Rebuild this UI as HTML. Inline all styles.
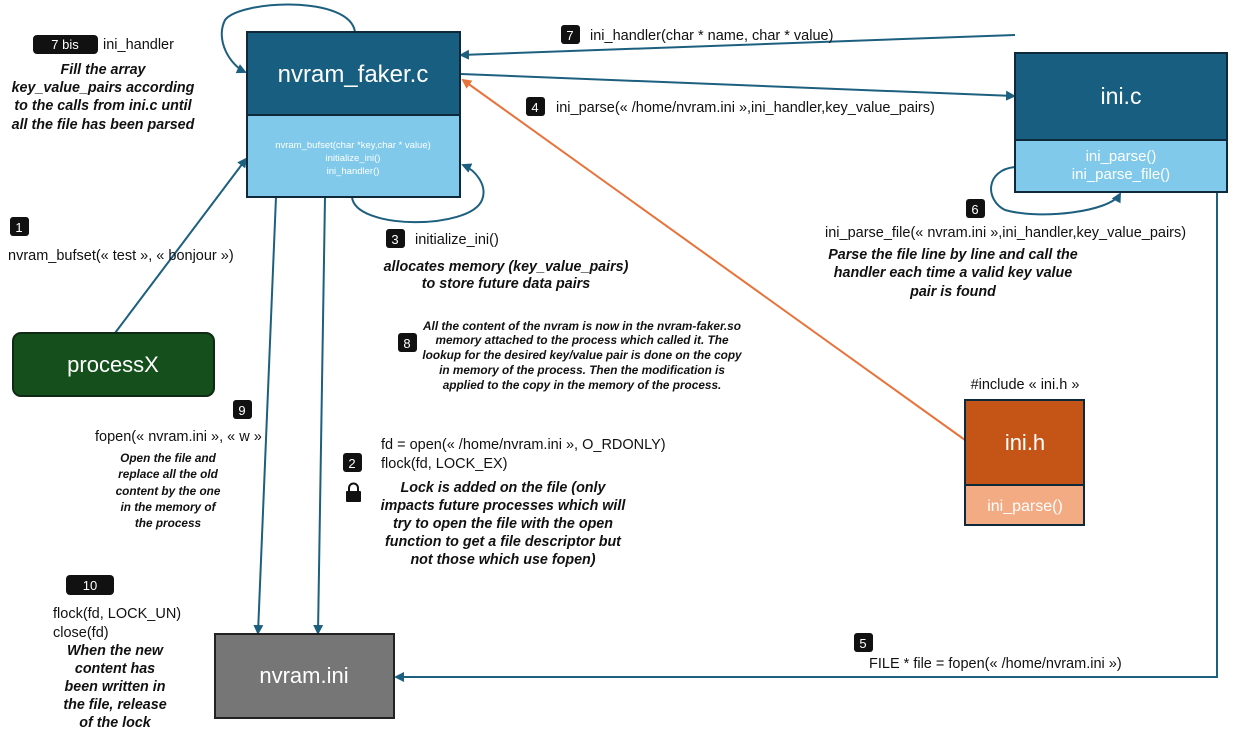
<!DOCTYPE html>
<html><head><meta charset="utf-8"><style>
body{margin:0;background:#fff;}
svg{display:block;font-family:"Liberation Sans",sans-serif;}
.t{font-size:14.5px;fill:#111}
.b{font-size:14.3px;font-weight:bold;font-style:italic;fill:#111}
.s{font-size:11.8px;font-weight:bold;font-style:italic;fill:#111}
.n{font-size:13px;fill:#fff}
</style></head><body>
<svg width="1240" height="738" viewBox="0 0 1240 738" xmlns="http://www.w3.org/2000/svg">
<defs>
<marker id="a" markerWidth="10" markerHeight="10" refX="8" refY="5" orient="auto" markerUnits="userSpaceOnUse"><path d="M0,0 L10,5 L0,10 z" fill="#1d5f7f"/></marker>
<marker id="o" markerWidth="10" markerHeight="10" refX="8" refY="5" orient="auto" markerUnits="userSpaceOnUse"><path d="M0,0 L10,5 L0,10 z" fill="#e8733a"/></marker>
</defs>
<g fill="none" stroke="#1d5f7f" stroke-width="2">
<path d="M355,32 C350,-5 240,0 225,20 C215,40 230,65 245,72" marker-end="url(#a)"/>
<path d="M115,333 L246,159" marker-end="url(#a)"/>
<path d="M352,197 C355,230 470,230 482,200 C488,185 475,170 463,165" marker-end="url(#a)"/>
<path d="M1015,35 L461,55" marker-end="url(#a)"/>
<path d="M461,74 L1014,96" marker-end="url(#a)"/>
<path d="M1015,167 C985,170 985,200 1005,210 C1040,220 1110,212 1120,194" marker-end="url(#a)"/>
<path d="M1217,192 L1217,677 L396,677" marker-end="url(#a)"/>
<path d="M276,197 L258,633" marker-end="url(#a)"/>
<path d="M325,197 L318,633" marker-end="url(#a)"/>
</g>
<path d="M965,440 L463,80" stroke="#e8733a" stroke-width="2" fill="none" marker-end="url(#o)"/>

<rect x="247" y="32" width="213" height="83" fill="#175e80" stroke="#0e2a3a" stroke-width="2"/>
<rect x="247" y="115" width="213" height="82" fill="#80c9ea" stroke="#0e2a3a" stroke-width="2"/>
<text x="353" y="82" text-anchor="middle" font-size="24" fill="#fff">nvram_faker.c</text>
<text x="353" y="148" text-anchor="middle" font-size="9.5" fill="#fff">nvram_bufset(char *key,char * value)</text>
<text x="353" y="161" text-anchor="middle" font-size="9.5" fill="#fff">initialize_ini()</text>
<text x="353" y="174" text-anchor="middle" font-size="9.5" fill="#fff">ini_handler()</text>

<rect x="1015" y="53" width="212" height="87" fill="#175e80" stroke="#0e2a3a" stroke-width="2"/>
<rect x="1015" y="140" width="212" height="52" fill="#80c9ea" stroke="#0e2a3a" stroke-width="2"/>
<text x="1121" y="104" text-anchor="middle" font-size="23" fill="#fff">ini.c</text>
<text x="1121" y="161" text-anchor="middle" font-size="15" fill="#fff">ini_parse()</text>
<text x="1121" y="179" text-anchor="middle" font-size="15" fill="#fff">ini_parse_file()</text>

<rect x="965" y="400" width="119" height="85" fill="#c55417" stroke="#0e2a3a" stroke-width="2"/>
<rect x="965" y="485" width="119" height="40" fill="#f2ab83" stroke="#0e2a3a" stroke-width="2"/>
<text x="1025" y="450" text-anchor="middle" font-size="22" fill="#fff">ini.h</text>
<text x="1025" y="511" text-anchor="middle" font-size="16" fill="#fff">ini_parse()</text>
<text x="1025" y="389" text-anchor="middle" class="t">#include « ini.h »</text>

<rect x="13" y="333" width="201" height="63" rx="8" fill="#144f1c" stroke="#0e2a14" stroke-width="2"/>
<text x="113" y="372" text-anchor="middle" font-size="22" fill="#fff">processX</text>

<rect x="215" y="634" width="179" height="84" fill="#767676" stroke="#222" stroke-width="2"/>
<text x="304" y="683" text-anchor="middle" font-size="22" fill="#fff">nvram.ini</text>

<g fill="#111">
<rect x="33" y="35" width="65" height="19" rx="4"/>
<rect x="10" y="217" width="19" height="19" rx="3"/>
<rect x="561" y="25" width="19" height="19" rx="3"/>
<rect x="526" y="97" width="19" height="19" rx="3"/>
<rect x="386" y="229" width="19" height="19" rx="3"/>
<rect x="966" y="199" width="19" height="19" rx="3"/>
<rect x="398" y="333" width="19" height="19" rx="3"/>
<rect x="233" y="400" width="19" height="19" rx="3"/>
<rect x="343" y="453" width="19" height="19" rx="3"/>
<rect x="854" y="633" width="19" height="19" rx="3"/>
<rect x="66" y="575" width="48" height="20" rx="4"/>
</g>
<g class="n" text-anchor="middle">
<text x="65" y="49" class="n">7 bis</text>
<text x="19" y="232" class="n">1</text>
<text x="570" y="40" class="n">7</text>
<text x="535" y="112" class="n">4</text>
<text x="395" y="244" class="n">3</text>
<text x="975" y="214" class="n">6</text>
<text x="407" y="348" class="n">8</text>
<text x="242" y="415" class="n">9</text>
<text x="352" y="468" class="n">2</text>
<text x="863" y="648" class="n">5</text>
<text x="90" y="590" class="n">10</text>
</g>

<text x="103" y="49" class="t">ini_handler</text>
<g class="b" text-anchor="middle">
<text x="103" y="74">Fill the array</text>
<text x="103" y="92">key_value_pairs according</text>
<text x="103" y="110">to the calls from ini.c until</text>
<text x="103" y="129">all the file has been parsed</text>
</g>
<text x="8" y="260" class="t" font-size="15.5">nvram_bufset(« test »,  « bonjour »)</text>
<text x="590" y="40" class="t">ini_handler(char *  name, char * value)</text>
<text x="556" y="112" class="t">ini_parse(« /home/nvram.ini »,ini_handler,key_value_pairs)</text>
<text x="415" y="244" class="t">initialize_ini()</text>
<g class="b" text-anchor="middle">
<text x="506" y="271">allocates memory (key_value_pairs)</text>
<text x="506" y="288">to store future data pairs</text>
</g>
<text x="825" y="237" class="t">ini_parse_file(« nvram.ini »,ini_handler,key_value_pairs)</text>
<g class="b" text-anchor="middle">
<text x="953" y="259">Parse the file line by line and call the</text>
<text x="953" y="277">handler each time a valid key value</text>
<text x="953" y="296">pair is found</text>
</g>
<g class="s" text-anchor="middle">
<text x="582" y="330">All the content of the nvram is now in the nvram-faker.so</text>
<text x="582" y="344">memory attached to the process which called it. The</text>
<text x="582" y="359">lookup for the desired key/value pair is done on the copy</text>
<text x="582" y="374">in memory of the process. Then the modification is</text>
<text x="582" y="389">applied to the copy in the memory of the process.</text>
</g>
<text x="95" y="441" class="t">fopen(« nvram.ini »,  « w »</text>
<g class="s" text-anchor="middle">
<text x="168" y="462">Open the file and</text>
<text x="168" y="478">replace all the old</text>
<text x="168" y="495">content by the one</text>
<text x="168" y="511">in the memory of</text>
<text x="168" y="527">the process</text>
</g>
<text x="381" y="449" class="t">fd = open(« /home/nvram.ini », O_RDONLY)</text>
<text x="381" y="468" class="t">flock(fd, LOCK_EX)</text>
<g transform="translate(346,484)"><rect x="0" y="7" width="15" height="11" rx="1" fill="#111"/><path d="M3,8 V4 a4.5,4.5 0 0 1 9,0 V8" fill="none" stroke="#111" stroke-width="2"/></g>
<g class="b" text-anchor="middle">
<text x="503" y="492">Lock is added on the file (only</text>
<text x="503" y="510">impacts future processes which will</text>
<text x="503" y="528">try to open the file with the open</text>
<text x="503" y="546">function to get a file descriptor but</text>
<text x="503" y="564">not those which use fopen)</text>
</g>
<text x="53" y="618" class="t">flock(fd, LOCK_UN)</text>
<text x="53" y="637" class="t">close(fd)</text>
<g class="b" text-anchor="middle">
<text x="115" y="655">When the new</text>
<text x="115" y="673">content has</text>
<text x="115" y="691">been written in</text>
<text x="115" y="709">the file, release</text>
<text x="115" y="727">of the lock</text>
</g>
<text x="869" y="668" class="t" font-size="13">FILE * file = fopen(« /home/nvram.ini »)</text>
</svg>
</body></html>
